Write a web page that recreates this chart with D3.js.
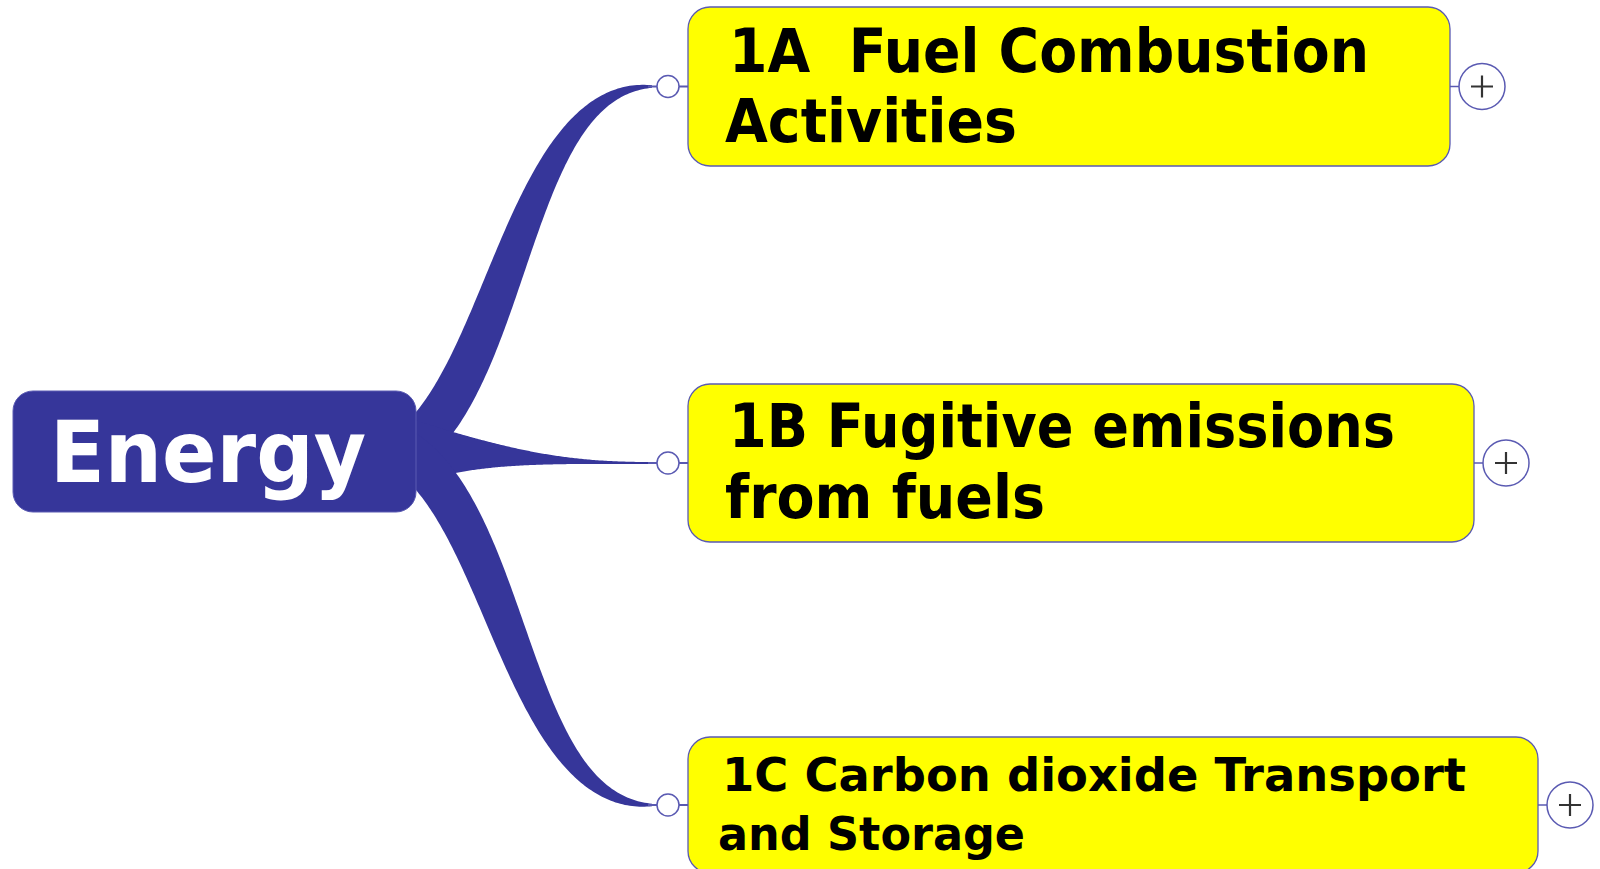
<!DOCTYPE html>
<html><head><meta charset="utf-8">
<script src="https://cdn.jsdelivr.net/npm/d3@7"></script>
<style>html,body{margin:0;padding:0;background:#fff;overflow:hidden}</style>
</head><body><svg id="chart" width="1600" height="869"></svg>
<script>
// ---- content ----
const rootLabel = "Energy";
const childCodes = ["1A", "1B", "1C"];
const childLine1 = ["1A  Fuel Combustion", "1B Fugitive emissions", "1C Carbon dioxide Transport"];
const childLine2 = ["Activities", "from fuels", "and Storage"];
const childCollapsed = [true, true, true];

// ---- layout ----
const rootBox = {x: 13, y: 391, w: 403, h: 121, r: 20};
const boxX = [688, 688, 688];
const boxY = [7, 384, 737];
const boxW = [762, 786, 850];
const boxH = [159, 158, 136];
const fontSize = [60, 60, 47];
const lineGap = [70, 71, 59];
const base1 = [72, 447, 791];
const textX = [729, 729, 722];
const line1W = [640, 666, 744];
const line2W = [292, 320, 307];

const navy = "#36369a";
const edge = "#5a5ab2";

const svg = d3.select("#chart");
const g = svg.append("g");

const rootCx = rootBox.x + rootBox.w, rootCy = rootBox.y + rootBox.h / 2;

function cubic(p, t) {
  const u = 1 - t;
  return [
    u*u*u*p[0][0] + 3*u*u*t*p[1][0] + 3*u*t*t*p[2][0] + t*t*t*p[3][0],
    u*u*u*p[0][1] + 3*u*u*t*p[1][1] + 3*u*t*t*p[2][1] + t*t*t*p[3][1]
  ];
}
function dcubic(p, t) {
  const u = 1 - t;
  return [
    3*u*u*(p[1][0]-p[0][0]) + 6*u*t*(p[2][0]-p[1][0]) + 3*t*t*(p[3][0]-p[2][0]),
    3*u*u*(p[1][1]-p[0][1]) + 6*u*t*(p[2][1]-p[1][1]) + 3*t*t*(p[3][1]-p[2][1])
  ];
}
function taper(p, wfn) {
  const N = 160, up = [], lo = [];
  for (let i = 0; i <= N; i++) {
    const t = i / N, c = cubic(p, t), d = dcubic(p, t);
    const len = Math.hypot(d[0], d[1]) || 1;
    const nx = -d[1] / len, ny = d[0] / len;
    const w = wfn(t, c) / 2;
    up.push([c[0] + nx * w, c[1] + ny * w]);
    lo.push([c[0] - nx * w, c[1] - ny * w]);
  }
  return up.concat(lo.reverse());
}
const area = d3.line().curve(d3.curveLinearClosed);

const x0 = rootCx - 11, y0 = rootCy;
const endX = 652;
childCodes.forEach((code, i) => {
  const cy = boxY[i] + boxH[i] / 2;
  let p, wfn;
  if (Math.abs(cy - y0) < 40) {
    p = [[x0, y0], [500, y0 + 1], [540, cy], [endX, cy]];
    wfn = (t, c) => {
      const s = Math.max(0, (c[0] - x0) / (endX - x0));
      return 2 + 67 * Math.pow(1 - s, 2.46);
    };
  } else {
    p = [[x0, y0], [510, y0 + (cy - y0) * 0.2], [518, cy], [endX, cy]];
    wfn = (t) => 2.5 + 40 * (1 - t * t);
  }
  g.append("path").attr("d", area(taper(p, wfn))).attr("fill", navy);
  g.append("line").attr("x1", endX - 4).attr("y1", cy).attr("x2", boxX[i]).attr("y2", cy)
    .attr("stroke", edge).attr("stroke-width", 2);
});

// root box
g.append("rect").attr("x", rootBox.x).attr("y", rootBox.y).attr("width", rootBox.w).attr("height", rootBox.h)
  .attr("rx", rootBox.r).attr("fill", navy).attr("stroke", "#5a5ab2").attr("stroke-width", 1);
g.append("text").attr("x", 50).attr("y", 482).text(rootLabel)
  .attr("fill", "#fff").attr("font-family", "DejaVu Sans, sans-serif").attr("font-weight", "bold")
  .attr("font-size", 85).attr("textLength", 316).attr("lengthAdjust", "spacingAndGlyphs");

// children
childCodes.forEach((code, i) => {
  const cy = boxY[i] + boxH[i] / 2;
  const right = boxX[i] + boxW[i];
  g.append("rect").attr("x", boxX[i]).attr("y", boxY[i]).attr("width", boxW[i]).attr("height", boxH[i])
    .attr("rx", 22).attr("fill", "#ffff00").attr("stroke", edge).attr("stroke-width", 1.3);
  g.append("circle").attr("cx", 668).attr("cy", cy).attr("r", 11)
    .attr("fill", "#fff").attr("stroke", edge).attr("stroke-width", 1.5);
  [childLine1[i], childLine2[i]].forEach((txt, k) => {
    g.append("text").attr("x", textX[i] - (k ? 4 : 0)).attr("y", base1[i] + k * lineGap[i]).text(txt)
      .style("white-space", "pre").attr("xml:space", "preserve")
      .attr("fill", "#000").attr("font-family", "DejaVu Sans, sans-serif").attr("font-weight", "bold")
      .attr("font-size", fontSize[i]).attr("textLength", k ? line2W[i] : line1W[i])
      .attr("lengthAdjust", "spacingAndGlyphs");
  });
  if (childCollapsed[i]) {
    const pcx = right + 32;
    g.append("line").attr("x1", right).attr("y1", cy).attr("x2", pcx - 23).attr("y2", cy)
      .attr("stroke", edge).attr("stroke-width", 1.5);
    g.append("circle").attr("cx", pcx).attr("cy", cy).attr("r", 23)
      .attr("fill", "#fff").attr("stroke", edge).attr("stroke-width", 1.5);
    g.append("path").attr("d", `M${pcx - 11},${cy}H${pcx + 11}M${pcx},${cy - 11}V${cy + 11}`)
      .attr("stroke", "#333").attr("stroke-width", 2.2);
  }
});
</script></body></html>
